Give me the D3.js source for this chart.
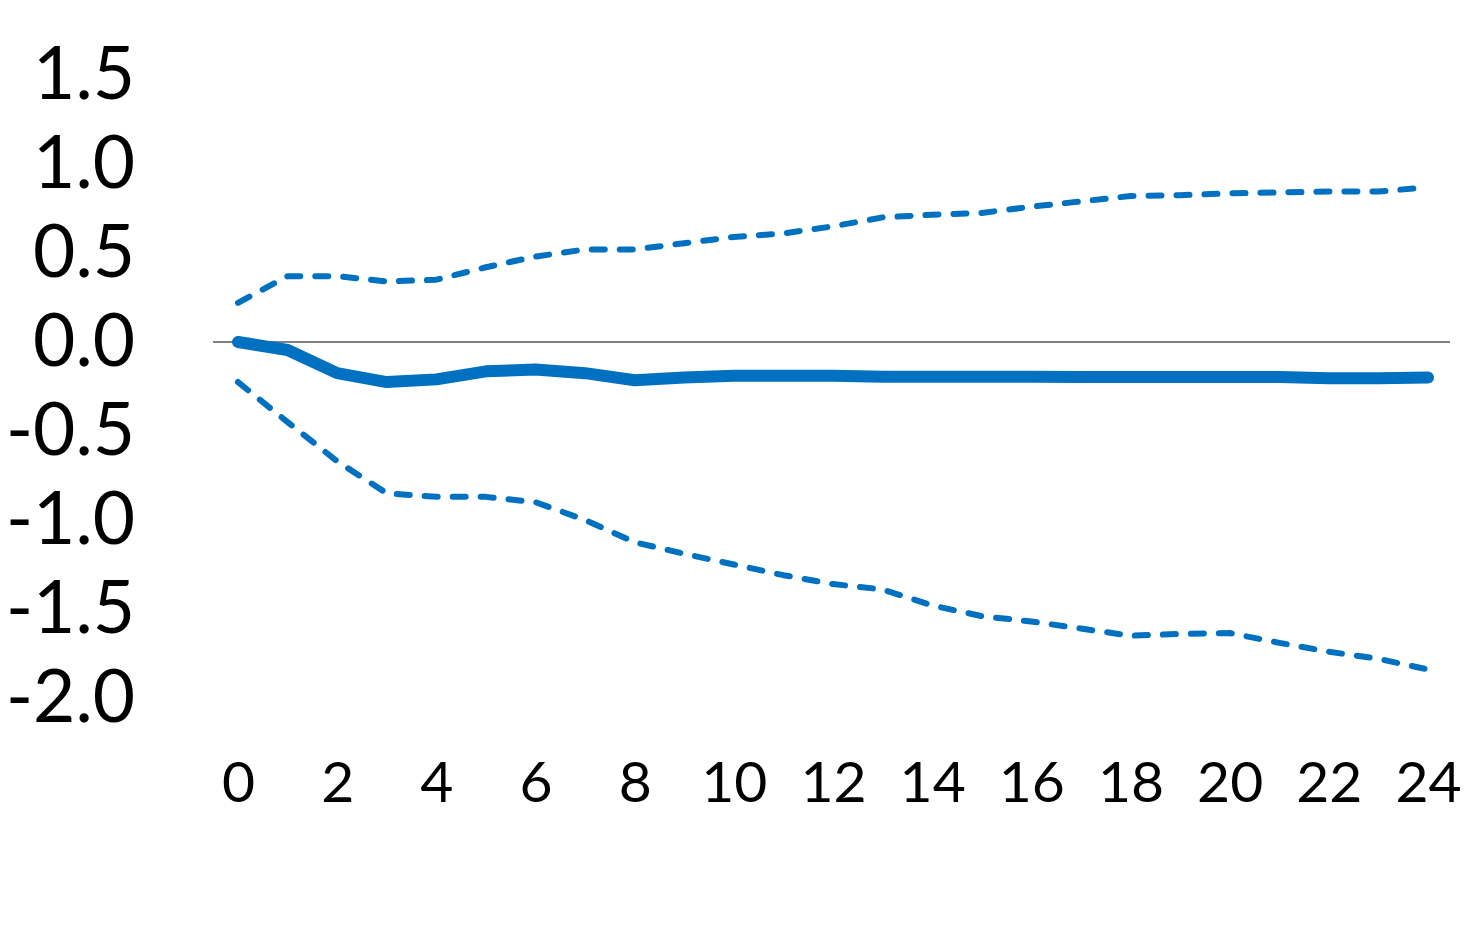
<!DOCTYPE html>
<html>
<head>
<meta charset="utf-8">
<script src="https://cdn.jsdelivr.net/npm/d3@7"></script>
<style>
  body { margin: 0; background: #fff; }
  svg text { font-family: Lato, "Open Sans", sans-serif; fill: #000; }
</style>
</head>
<body>
<div id="chart"></div>
<script>
// horizon (months)
const periods = d3.range(0, 25);

// point estimate
const response = [0.0, -0.045, -0.175, -0.225, -0.21, -0.165, -0.155, -0.175, -0.215, -0.2,
  -0.19, -0.19, -0.19, -0.195, -0.195, -0.195, -0.195, -0.197, -0.197, -0.197,
  -0.197, -0.197, -0.203, -0.203, -0.2];

// confidence bands
const upper = [0.22, 0.37, 0.37, 0.34, 0.35, 0.42, 0.48, 0.52, 0.52, 0.555,
  0.59, 0.61, 0.65, 0.70, 0.715, 0.725, 0.76, 0.79, 0.82, 0.825,
  0.835, 0.84, 0.845, 0.845, 0.87];
const lower = [-0.225, -0.45, -0.67, -0.85, -0.87, -0.87, -0.9, -1.0, -1.125, -1.19,
  -1.25, -1.31, -1.36, -1.39, -1.48, -1.54, -1.57, -1.61, -1.65, -1.64,
  -1.635, -1.69, -1.74, -1.78, -1.84];

const yTicks = [-2.0, -1.5, -1.0, -0.5, 0.0, 0.5, 1.0, 1.5];
const xTicks = [0, 2, 4, 6, 8, 10, 12, 14, 16, 18, 20, 22, 24];

const width = 1482, height = 948;
const blue = "#0070C0";

const svg = d3.select("#chart").append("svg")
  .attr("width", width)
  .attr("height", height);

const x = d3.scaleLinear().domain([0, 24]).range([238, 1428]);
const y = d3.scaleLinear().domain([-2, 1.5]).range([698, 75]);

const fmt = d3.formatLocale({decimal: ".", thousands: ",", grouping: [3], currency: ["", ""], minus: "-"}).format(".1f");

// y axis labels
const yAxis = svg.append("g")
  .attr("transform", "translate(145,0)")
  .call(d3.axisLeft(y).tickValues(yTicks).tickFormat(fmt).tickSize(0).tickPadding(10));
yAxis.select(".domain").remove();
yAxis.selectAll("text").attr("font-size", 73).attr("font-family", "Lato");

// x axis labels
const xAxis = svg.append("g")
  .attr("transform", "translate(0,752)")
  .call(d3.axisBottom(x).tickValues(xTicks).tickFormat(d3.format("d")).tickSize(0).tickPadding(10));
xAxis.select(".domain").remove();
xAxis.selectAll("text").attr("font-size", 57).attr("font-family", "Lato");

// zero line
svg.append("line")
  .attr("x1", 213).attr("x2", 1450)
  .attr("y1", y(0)).attr("y2", y(0))
  .attr("stroke", "#808080")
  .attr("stroke-width", 2);

const line = d3.line()
  .x((d, i) => x(periods[i]))
  .y(d => y(d));

[upper, lower].forEach(band => {
  svg.append("path")
    .datum(band)
    .attr("d", line)
    .attr("fill", "none")
    .attr("stroke", blue)
    .attr("stroke-width", 6)
    .attr("stroke-dasharray", "13 15")
    .attr("stroke-linecap", "round")
    .attr("stroke-linejoin", "round");
});

svg.append("path")
  .datum(response)
  .attr("d", line)
  .attr("fill", "none")
  .attr("stroke", blue)
  .attr("stroke-width", 12)
  .attr("stroke-linecap", "round")
  .attr("stroke-linejoin", "round");
</script>
</body>
</html>
